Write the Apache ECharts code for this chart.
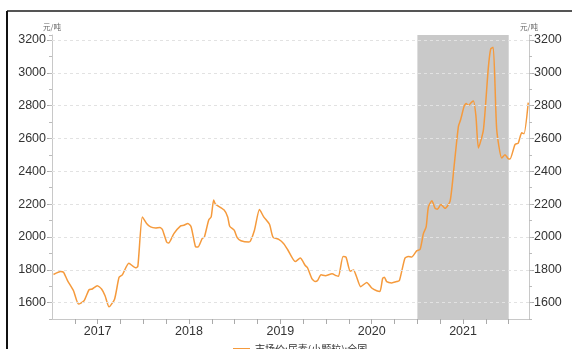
<!DOCTYPE html>
<html><head><meta charset="utf-8">
<script src="https://cdn.jsdelivr.net/npm/echarts@6/dist/echarts.min.js"></script>
<style>html,body{margin:0;padding:0;background:#fff}#c{width:572px;height:349px}</style>
</head><body><div id="c"></div>
<script>
const seriesName = '市场价:尿素(小颗粒):全国';
const unitLabel = '元/吨';
const yearLabels = ['2017','2018','2019','2020','2021'];
const yTickValues = [1600,1800,2000,2200,2400,2600,2800,3000,3200];
const shadeRange = ['2021-01-01','2022-01-01'];
const dates = ['2017-01-07','2017-02-05','2017-02-16','2017-03-04','2017-03-28','2017-04-17','2017-05-09','2017-05-29','2017-06-11','2017-07-01','2017-07-18','2017-08-01','2017-08-17','2017-09-08','2017-09-26','2017-10-09','2017-11-04','2017-12-01','2017-12-10','2017-12-28',
'2018-01-14','2018-01-30','2018-02-19','2018-03-08','2018-03-18','2018-04-04','2018-04-12','2018-05-03','2018-05-30','2018-06-12','2018-06-28','2018-07-11','2018-07-28','2018-08-07','2018-08-24','2018-09-02','2018-09-19','2018-09-29','2018-10-09','2018-10-16','2018-11-19','2018-12-04','2018-12-12','2018-12-30',
'2019-01-11','2019-01-26','2019-02-26','2019-03-05','2019-03-21','2019-04-10','2019-04-27','2019-05-20','2019-06-03','2019-06-26','2019-07-16','2019-08-01','2019-08-31','2019-09-20','2019-10-10','2019-10-19','2019-11-06','2019-11-19','2019-11-28','2019-12-12','2019-12-29',
'2020-01-25','2020-02-11','2020-02-20','2020-03-09','2020-03-21','2020-04-07','2020-04-20','2020-05-03','2020-05-19','2020-06-12','2020-07-02','2020-07-22','2020-08-04','2020-08-15','2020-08-22','2020-08-31','2020-09-20','2020-10-10','2020-10-21','2020-11-12','2020-11-25','2020-12-09','2020-12-29',
'2021-01-12','2021-01-25','2021-02-05','2021-02-14','2021-02-28','2021-03-13','2021-03-22','2021-04-05','2021-04-22','2021-05-12','2021-05-29','2021-06-14','2021-06-23','2021-07-07','2021-07-15','2021-07-24','2021-08-06','2021-08-13','2021-08-23','2021-09-02','2021-09-22','2021-10-11','2021-10-21','2021-10-31','2021-11-14','2021-12-04','2021-12-17','2021-12-30',
'2022-01-06','2022-01-26','2022-02-08','2022-02-22','2022-03-03','2022-03-20'];
const prices = [1771,1789,1785,1734,1672,1591,1611,1678,1683,1703,1683,1642,1574,1621,1754,1769,1840,1812,1820,2122,
2082,2061,2055,2057,2045,1969,1963,2020,2067,2071,2082,2061,1942,1938,1990,2000,2102,2122,2225,2200,2165,2122,2065,2041,
1996,1977,1969,1975,2041,2167,2122,2077,1999,1985,1959,1922,1850,1871,1826,1812,1744,1728,1734,1769,1764,
1775,1764,1760,1881,1877,1791,1799,1754,1697,1723,1689,1672,1668,1748,1754,1728,1720,1728,1734,1870,1881,1877,1915,
1925,2020,2061,2183,2220,2174,2169,2198,2174,2220,2450,2674,2715,2797,2813,2801,2821,2828,2736,2542,2654,3022,3145,3155,2654,2480,2501,2476,
2474,2562,2572,2634,2629,2818];

function fy(s){const d=new Date(s+'T00:00:00Z');const y=d.getUTCFullYear();const a=Date.UTC(y,0,1),b=Date.UTC(y+1,0,1);return y+(d-a)/(b-a);}
const xMin = 2017, xMax = fy('2022-03-23');
const data = dates.map((d,i)=>[fy(d),prices[i]]);
const yMin = 1500, yMax = 3230;

const axisCol = '#c8c8c8';
const labelStyle = {color:'#333',fontSize:12.5,fontFamily:'Liberation Sans, Arial, sans-serif'};
function yAx(pos){return {type:'value',position:pos,min:yMin,max:yMax,
  axisLine:{show:true,lineStyle:{color:axisCol}},
  axisTick:{show:true,length:5,customValues:yTickValues,lineStyle:{color:'#aaa'}},
  axisLabel:Object.assign({margin:pos==='left'?6:5,customValues:yTickValues,formatter:v=>String(v)},labelStyle),
  splitLine:{show:false}};}
function yMinor(pos){return {type:'value',position:pos,min:yMin,max:yMax,interval:100,
  axisLine:{show:false},axisTick:{show:true,length:3,lineStyle:{color:'#bbb'}},
  axisLabel:{show:false},splitLine:{show:false}};}

const chart = echarts.init(document.getElementById('c'),null,{renderer:'canvas'});
chart.setOption({
  animation:false,
  grid:{left:52,right:43,top:35,bottom:30,containLabel:false},
  legend:{show:true,left:228,top:339,itemWidth:17,itemHeight:2,itemGap:4,icon:'rect',
    textStyle:{color:'#333',fontSize:10,fontFamily:'Noto Sans CJK SC, sans-serif'},data:[seriesName]},
  xAxis:{type:'value',min:xMin,max:xMax,interval:0.25,
    axisLine:{lineStyle:{color:axisCol}},
    axisTick:{show:true,length:5,lineStyle:{color:'#aaa'}},
    splitLine:{show:false},
    axisLabel:Object.assign({margin:6,showMinLabel:false,showMaxLabel:false,
      formatter:v=>{const f=v-Math.floor(v);if(Math.abs(f-0.5)<1e-6){const s=String(Math.floor(v));return yearLabels.indexOf(s)>=0?s:'';}return '';}},labelStyle)},
  yAxis:[yAx('left'),yAx('right'),yMinor('left'),yMinor('right')],
  series:[{name:seriesName,type:'line',data:data,showSymbol:false,smooth:0.2,
    lineStyle:{color:'#f59a3c',width:1.5},itemStyle:{color:'#f59a3c'},z:3,
    markArea:{silent:true,itemStyle:{color:'#c9c9c9'},data:[[{xAxis:fy(shadeRange[0])},{xAxis:fy(shadeRange[1])}]]},
    markLine:{silent:true,symbol:'none',label:{show:false},animation:false,
      lineStyle:{color:'#e2e2e2',type:[3,3],width:1},
      data:yTickValues.map(v=>({yAxis:v}))}}],
  graphic:[
    {type:'line',shape:{x1:7,y1:11,x2:572,y2:11},style:{stroke:'#555',lineWidth:2}},
    {type:'line',shape:{x1:7,y1:11,x2:7,y2:349},style:{stroke:'#111',lineWidth:2}},
    {type:'text',x:52,y:27,style:{text:unitLabel,fill:'#666',fontSize:7.5,align:'center',verticalAlign:'middle',fontFamily:'Noto Sans CJK SC, sans-serif'}},
    {type:'text',x:529,y:27,style:{text:unitLabel,fill:'#666',fontSize:7.5,align:'center',verticalAlign:'middle',fontFamily:'Noto Sans CJK SC, sans-serif'}}
  ]
});
</script></body></html>
